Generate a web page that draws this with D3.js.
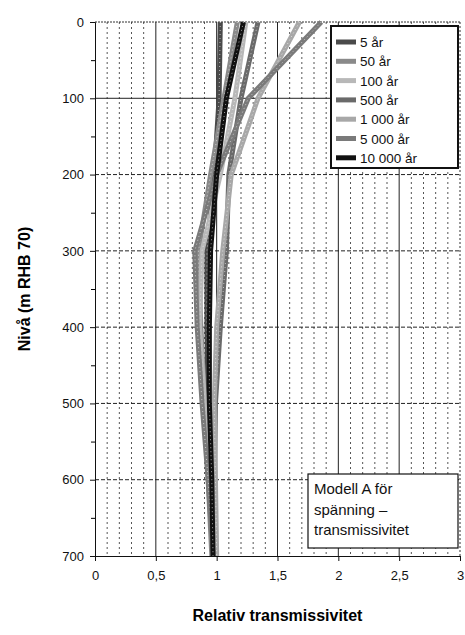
<!DOCTYPE html>
<html><head><meta charset="utf-8">
<script src="https://cdn.jsdelivr.net/npm/d3@7"></script>
<style>
html,body{margin:0;padding:0;background:#fff;}
text{font-family:"Liberation Sans",Arial,sans-serif;}
</style></head>
<body><svg id="c" width="465" height="635"></svg>
<script>
const depths = [0, 100, 200, 300, 400, 500, 600, 700];
const seriesNames = ["5 år", "50 år", "100 år", "500 år", "1 000 år", "5 000 år", "10 000 år"];
const seriesColors = ["#4a4a4a", "#8a8a8a", "#b8b8b8", "#6a6a6a", "#a8a8a8", "#7a7a7a", "#111111"];
const s5 = [1.03, 1.02, 0.98, 0.92, 0.92, 0.93, 0.95, 0.97];
const s50 = [1.17, 1.06, 0.95, 0.85, 0.87, 0.90, 0.93, 0.96];
const s100 = [1.24, 1.15, 1.03, 0.88, 0.86, 0.90, 0.94, 0.97];
const s500 = [1.34, 1.20, 1.10, 1.08, 1.03, 0.99, 0.98, 0.98];
const s1000 = [1.68, 1.34, 1.12, 1.05, 1.00, 0.98, 0.99, 1.00];
const s5000 = [1.86, 1.26, 1.00, 0.82, 0.84, 0.88, 0.93, 0.97];
const s10000 = [1.22, 1.08, 1.00, 0.95, 0.94, 0.94, 0.96, 0.97];
const seriesValues = [s5, s50, s100, s500, s1000, s5000, s10000];
const xTicks = [0, 0.5, 1, 1.5, 2, 2.5, 3];
const yTicks = [0, 100, 200, 300, 400, 500, 600, 700];
const noteLines = ["Modell A för", "spänning –", "transmissivitet"];

const svg = d3.select("#c");
const L = 95, R = 460, T = 22, B = 556;
const x = d3.scaleLinear().domain([0, 3]).range([L, R]);
const y = d3.scaleLinear().domain([0, 700]).range([T, B]);
const fmt = d => String(d).replace(".", ",");

// grid
const g = svg.append("g");
d3.range(1, 30).forEach(i => {
  const v = i / 10;
  const major = i % 5 === 0;
  g.append("line").attr("x1", x(v)).attr("x2", x(v)).attr("y1", T).attr("y2", B)
    .attr("stroke", major ? "#222" : "#555").attr("stroke-width", 1)
    .attr("stroke-dasharray", major ? null : "2,3");
});
yTicks.slice(1, -1).forEach((v, i) => {
  g.append("line").attr("x1", L).attr("x2", R).attr("y1", y(v)).attr("y2", y(v))
    .attr("stroke", "#222").attr("stroke-width", 1)
    .attr("stroke-dasharray", v === 100 ? null : "4,2");
});
// frame
svg.append("line").attr("x1", L).attr("x2", R).attr("y1", T).attr("y2", T).attr("stroke", "#333").attr("stroke-dasharray", "2,1");
svg.append("line").attr("x1", R).attr("x2", R).attr("y1", T).attr("y2", B).attr("stroke", "#333").attr("stroke-dasharray", "2,2");

// series
const line = d3.line().x(d => x(d[0])).y(d => y(d[1]));
seriesValues.forEach((vals, i) => {
  const pts = vals.map((v, j) => [v, depths[j]]);
  svg.append("path").datum(pts).attr("d", line).attr("fill", "none")
    .attr("stroke", seriesColors[i]).attr("stroke-width", 5).attr("stroke-linejoin", "round");
  svg.append("path").datum(pts).attr("d", line).attr("fill", "none")
    .attr("stroke", "#fff").attr("stroke-width", 1).attr("stroke-dasharray", "1,3").attr("opacity", 0.6);
});

// axes
const xa = svg.append("g").attr("transform", `translate(0,${B})`)
  .call(d3.axisBottom(x).tickValues(xTicks).tickFormat(fmt).tickSize(5).tickPadding(10));
const ya = svg.append("g").attr("transform", `translate(${L},0)`)
  .call(d3.axisLeft(y).tickValues(yTicks).tickSize(5).tickPadding(6));
svg.append("g").attr("transform", `translate(${L},0)`)
  .call(d3.axisLeft(y).tickValues(d3.range(50, 700, 100)).tickSize(4).tickFormat(""))
  .select(".domain").remove();
[xa, ya].forEach(a => {
  a.selectAll("text").attr("font-size", 13).attr("fill", "#111");
  a.selectAll("line,path").attr("stroke", "#111");
});

svg.append("text").attr("x", (L + R) / 2).attr("y", 621).attr("text-anchor", "middle")
  .attr("font-size", 16).attr("font-weight", "bold").text("Relativ transmissivitet");
svg.append("text").attr("transform", `translate(30,${(T + B) / 2}) rotate(-90)`).attr("text-anchor", "middle")
  .attr("font-size", 16).attr("font-weight", "bold").text("Nivå (m RHB 70)");

// legend
const lg = svg.append("g");
lg.append("rect").attr("x", 331).attr("y", 26).attr("width", 127).attr("height", 142)
  .attr("fill", "#fff").attr("stroke", "#111").attr("stroke-width", 2);
seriesNames.forEach((n, i) => {
  const yy = 42 + i * 19.3;
  lg.append("line").attr("x1", 336).attr("x2", 356).attr("y1", yy).attr("y2", yy)
    .attr("stroke", seriesColors[i]).attr("stroke-width", 5);
  lg.append("text").attr("x", 360).attr("y", yy + 5).attr("font-size", 13.5).attr("fill", "#111").text(n);
});

// note
const ng = svg.append("g");
ng.append("rect").attr("x", 308).attr("y", 474).attr("width", 150).attr("height", 74)
  .attr("fill", "#fff").attr("stroke", "#111").attr("stroke-width", 1.2);
noteLines.forEach((t, i) => {
  ng.append("text").attr("x", 314).attr("y", 494 + i * 20.5).attr("font-size", 15).attr("fill", "#111").text(t);
});
</script></body></html>
